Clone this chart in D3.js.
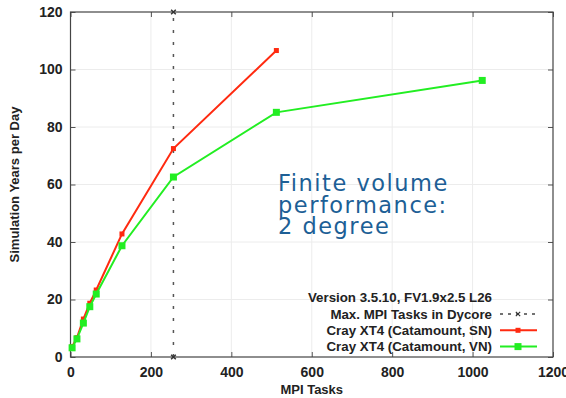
<!DOCTYPE html>
<html lang="en">
<head>
<meta charset="utf-8">
<title>FV 2 degree scaling</title>
<style>
body { margin: 0; background: #fff; }
.lab { font-family: "Liberation Sans", Arial, sans-serif; }
.tick text { font-family: "Liberation Sans", Arial, sans-serif; font-weight: bold; font-size: 14px; fill: #222; }
.note { font-family: "DejaVu Sans", Verdana, sans-serif; font-size: 22.5px; fill: #1d5f96; letter-spacing: 1.5px; }
</style>
<script src="https://d3js.org/d3.v7.min.js"></script>
</head>
<body>
<div id="chart"></div>
<script>
// data
var snTasks = [4, 16, 32, 48, 64, 128, 256, 512];
var snYears = [3.6, 6.7, 13.2, 18.7, 23.3, 42.8, 72.5, 106.6];
var vnTasks = [4, 16, 32, 48, 64, 128, 256, 512, 1024];
var vnYears = [3.2, 6.3, 11.8, 17.5, 21.9, 38.7, 62.6, 85.1, 96.2];
var maxDycore = 256;
var xTicks = [0, 200, 400, 600, 800, 1000, 1200];
var yTicks = [0, 20, 40, 60, 80, 100, 120];
var legendLabels = ["Max. MPI Tasks in Dycore", "Cray XT4 (Catamount, SN)", "Cray XT4 (Catamount, VN)"];
var noteLines = ["Finite volume", "performance:", "2 degree"];

var W = 566, H = 398;
var m = {left: 70.5, right: 13, top: 12, bottom: 41};

var svg = d3.select('#chart').append('svg')
  .attr('width', W).attr('height', H);

var x = d3.scaleLinear().domain([0, 1200]).range([m.left, W - m.right]);
var y = d3.scaleLinear().domain([0, 120]).range([H - m.bottom, m.top]);

// grid
svg.append('g').selectAll('line')
  .data(xTicks.slice(1, -1)).enter().append('line')
  .attr('x1', x).attr('x2', x).attr('y1', y(0)).attr('y2', y(120))
  .attr('stroke', '#ececec').attr('stroke-width', 1);
svg.append('g').selectAll('line')
  .data(yTicks.slice(1, -1)).enter().append('line')
  .attr('y1', y).attr('y2', y).attr('x1', x(0)).attr('x2', x(1200))
  .attr('stroke', '#ececec').attr('stroke-width', 1);

// axes with inward ticks, mirrored
var fmt = d3.format('d');
svg.append('g').attr('transform', 'translate(0,' + y(0) + ')')
  .call(d3.axisBottom(x).tickValues(xTicks).tickFormat(fmt).tickSizeInner(-5).tickSizeOuter(0).tickPadding(10));
svg.append('g').attr('transform', 'translate(' + x(0) + ',0)')
  .call(d3.axisLeft(y).tickValues(yTicks).tickFormat(fmt).tickSizeInner(-5).tickSizeOuter(0).tickPadding(8));
svg.append('g').attr('transform', 'translate(0,' + y(120) + ')')
  .call(d3.axisTop(x).tickValues(xTicks).tickSizeInner(-5).tickSizeOuter(0).tickFormat(''));
svg.append('g').attr('transform', 'translate(' + x(1200) + ',0)')
  .call(d3.axisRight(y).tickValues(yTicks).tickSizeInner(-5).tickSizeOuter(0).tickFormat(''));
svg.selectAll('.domain').remove();
svg.selectAll('.tick line').attr('stroke', '#555');

svg.append('rect')
  .attr('x', x(0)).attr('y', y(120))
  .attr('width', x(1200) - x(0)).attr('height', y(0) - y(120))
  .attr('fill', 'none').attr('stroke', '#444').attr('stroke-width', 1.2);

// axis titles
svg.append('text').attr('class', 'lab')
  .attr('x', (x(0) + x(1200)) / 2).attr('y', 394)
  .attr('text-anchor', 'middle').attr('font-weight', 'bold').attr('font-size', 13)
  .attr('fill', '#222').text('MPI Tasks');
svg.append('text').attr('class', 'lab')
  .attr('transform', 'translate(19,' + ((y(0) + y(120)) / 2) + ') rotate(-90)')
  .attr('text-anchor', 'middle').attr('font-weight', 'bold').attr('font-size', 13)
  .attr('fill', '#222').text('Simulation Years per Day');

// dycore limit
svg.append('line')
  .attr('x1', x(maxDycore)).attr('x2', x(maxDycore))
  .attr('y1', y(0)).attr('y2', y(120))
  .attr('stroke', '#555').attr('stroke-width', 1.5).attr('stroke-dasharray', '3,9');
[0, 120].forEach(function (v) {
  svg.append('path')
    .attr('transform', 'translate(' + x(maxDycore) + ',' + y(v) + ')')
    .attr('d', d3.symbol(d3.symbolX, 16)())
    .attr('stroke', '#333').attr('stroke-width', 1.5);
});

var line = d3.line().x(function (d) { return x(d[0]); }).y(function (d) { return y(d[1]); });
var sn = d3.zip(snTasks, snYears);
var vn = d3.zip(vnTasks, vnYears);

svg.append('path').datum(sn).attr('d', line)
  .attr('fill', 'none').attr('stroke', '#ff2a10').attr('stroke-width', 2);
svg.append('g').selectAll('rect').data(sn).enter().append('rect')
  .attr('x', function (d) { return x(d[0]) - 2.5; })
  .attr('y', function (d) { return y(d[1]) - 2.5; })
  .attr('width', 5).attr('height', 5).attr('fill', '#ff2a10');

svg.append('path').datum(vn).attr('d', line)
  .attr('fill', 'none').attr('stroke', '#22ee22').attr('stroke-width', 2);
svg.append('g').selectAll('rect').data(vn).enter().append('rect')
  .attr('x', function (d) { return x(d[0]) - 3.5; })
  .attr('y', function (d) { return y(d[1]) - 3.5; })
  .attr('width', 7).attr('height', 7).attr('fill', '#22ee22');

// legend
var lg = svg.append('g').attr('class', 'lab').attr('font-weight', 'bold').attr('font-size', 13.3).attr('fill', '#222');
lg.append('text').attr('x', 492).attr('y', 302).attr('text-anchor', 'end')
  .text('Version 3.5.10, FV1.9x2.5 L26');
var legStyles = [
  {stroke: '#444', dash: '3,5', w: 1.5},
  {stroke: '#ff2a10', dash: null, w: 2},
  {stroke: '#22ee22', dash: null, w: 2}
];
legendLabels.forEach(function (lab, i) {
  var ly = 314 + i * 16.3;
  lg.append('text').attr('x', 492).attr('y', ly + 4.5).attr('text-anchor', 'end').text(lab);
  lg.append('line').attr('x1', 500).attr('x2', 537).attr('y1', ly).attr('y2', ly)
    .attr('stroke', legStyles[i].stroke).attr('stroke-width', legStyles[i].w)
    .attr('stroke-dasharray', legStyles[i].dash);
  if (i === 0) {
    lg.append('path').attr('transform', 'translate(518,' + ly + ')')
      .attr('d', d3.symbol(d3.symbolX, 14)()).attr('stroke', '#333').attr('stroke-width', 1.2);
  } else {
    var s = i === 1 ? 5 : 7;
    lg.append('rect').attr('x', 518 - s / 2).attr('y', ly - s / 2)
      .attr('width', s).attr('height', s).attr('fill', legStyles[i].stroke);
  }
});

// annotation
noteLines.forEach(function (t, i) {
  svg.append('text').attr('class', 'note')
    .attr('x', 278).attr('y', 191 + i * 21.5).text(t);
});
</script>
</body>
</html>
